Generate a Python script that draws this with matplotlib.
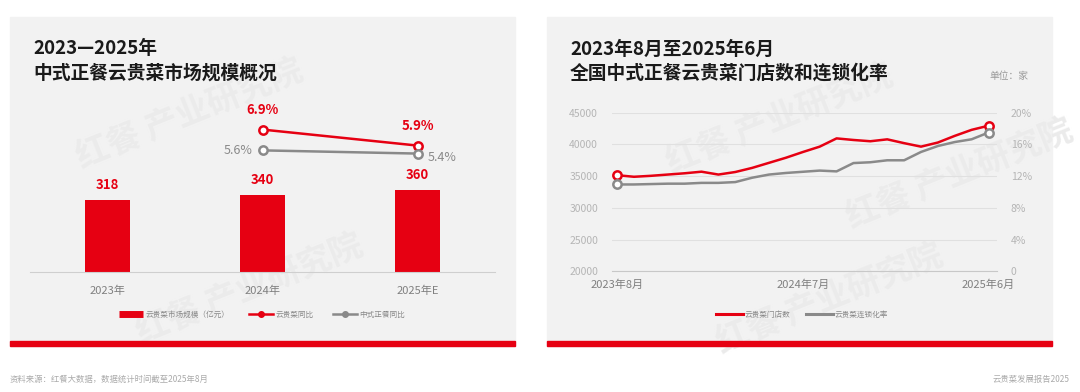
import matplotlib
matplotlib.use("Agg")
import matplotlib.pyplot as plt
from matplotlib.patches import Rectangle
from matplotlib.lines import Line2D
import numpy as np

plt.rcParams['font.family'] = ['Noto Sans CJK SC', 'DejaVu Sans']

# ---- data: left panel ----
years = ["2023年", "2024年", "2025年E"]
market_size = [318, 340, 360]          # 亿元
yunggui_yoy = [None, 6.9, 5.9]         # %
zhengcan_yoy = [None, 5.6, 5.4]        # %

# ---- data: right panel (2023-08 .. 2025-06, monthly) ----
stores = [35150, 34900, 35050, 35250, 35450, 35700, 35250, 35650, 36300, 37100,
          37900, 38800, 39650, 40950, 40700, 40500, 40800, 40200, 39650, 40300,
          41350, 42300, 42950]
chain_rate = [10.95, 10.95, 11.0, 11.05, 11.05, 11.15, 11.15, 11.25, 11.8, 12.2,
              12.4, 12.55, 12.7, 12.6, 13.65, 13.75, 14.0, 14.0, 15.05, 15.8,
              16.3, 16.65, 17.5]
month_ticks = [0, 11, 22]
month_labels = ["2023年8月", "2024年7月", "2025年6月"]

RED = "#e60012"
GRAY = "#8a8a8a"
PANEL = "#f2f2f2"
W, H = 1080, 392

fig = plt.figure(figsize=(W / 100, H / 100), dpi=100)
fig.patch.set_facecolor("white")


def box(x0, y0, x1, y1):
    return [x0 / W, 1 - y1 / H, (x1 - x0) / W, (y1 - y0) / H]


def fx(x):
    return x / W


def fy(y):
    return 1 - y / H


# panels + red bottom strips
for x0, x1 in [(10, 515), (547, 1052)]:
    fig.patches.append(Rectangle((fx(x0), fy(346)), (x1 - x0) / W, (346 - 17) / H,
                                 transform=fig.transFigure, color=PANEL, zorder=0))
    fig.patches.append(Rectangle((fx(x0), fy(346)), (x1 - x0) / W, 5 / H,
                                 transform=fig.transFigure, color=RED, zorder=1))

# faint watermarks
for (x, y) in [(190, 115), (250, 290), (780, 120), (830, 300), (960, 175)]:
    fig.text(fx(x), fy(y), "红餐 产业研究院", fontsize=24, color="#ebebeb",
             rotation=22, ha="center", va="center", fontweight="bold", zorder=0.5)

# ---- left panel ----
fig.text(fx(33), fy(49), "2023—2025年", fontsize=13.5, fontweight="bold",
         color="#1a1a1a", va="center", zorder=3)
fig.text(fx(33), fy(73), "中式正餐云贵菜市场规模概况", fontsize=13.5, fontweight="bold",
         color="#1a1a1a", va="center", zorder=3)

ax = fig.add_axes(box(30, 95, 495, 272), zorder=2)
ax.set_facecolor("none")
x = np.arange(len(years))
bars = ax.bar(x, market_size, 0.285, color=RED, zorder=2)
ax.bar_label(bars, labels=[str(v) for v in market_size], padding=6,
             color=RED, fontsize=9.5, fontweight="bold")
ax.set_xlim(-0.5, 2.5)
ax.set_ylim(0, 780)
ax.set_yticks([])
ax.set_xticks(x)
ax.set_xticklabels(years, fontsize=8, color="#808080")
ax.tick_params(axis="x", length=0, pad=10)
for s in ["top", "right", "left"]:
    ax.spines[s].set_visible(False)
ax.spines["bottom"].set_color("#cfcfcf")

ax2 = ax.twinx()
ax2.set_ylim(-2, 9.06)
ax2.axis("off")
xl = x[1:]
ax2.plot(xl, yunggui_yoy[1:], color=RED, lw=1.8, marker="o", ms=6,
         mfc="white", mec=RED, mew=1.8, zorder=3)
ax2.plot(xl, zhengcan_yoy[1:], color=GRAY, lw=1.8, marker="o", ms=6,
         mfc="white", mec=GRAY, mew=1.8, zorder=3)
for xi, v in zip(xl, yunggui_yoy[1:]):
    ax2.annotate(f"{v}%", (xi, v), xytext=(0, 9), textcoords="offset points",
                 ha="center", va="bottom", color=RED, fontsize=9.5, fontweight="bold")
ax2.annotate(f"{zhengcan_yoy[1]}%", (xl[0], zhengcan_yoy[1]), xytext=(-7, 0),
             textcoords="offset points", ha="right", va="center", color=GRAY, fontsize=9)
ax2.annotate(f"{zhengcan_yoy[2]}%", (xl[1], zhengcan_yoy[2]), xytext=(7, -3),
             textcoords="offset points", ha="left", va="center", color=GRAY, fontsize=9)

h1 = [Line2D([], [], color=RED, lw=5, solid_capstyle="butt"),
      Line2D([], [], color=RED, lw=1.8, marker="o", ms=4),
      Line2D([], [], color=GRAY, lw=1.8, marker="o", ms=4)]
lg1 = fig.legend(h1, ["云贵菜市场规模（亿元）", "云贵菜同比", "中式正餐同比"],
                 loc="center", bbox_to_anchor=(fx(262), fy(315)), ncol=3, frameon=False,
                 fontsize=5.5, labelcolor="#888888", handlelength=3.2, handletextpad=0.3,
                 columnspacing=2.5)
lg1.set_zorder(3)

# ---- right panel ----
fig.text(fx(570), fy(49), "2023年8月至2025年6月", fontsize=13.5, fontweight="bold",
         color="#1a1a1a", va="center", zorder=3)
fig.text(fx(570), fy(73), "全国中式正餐云贵菜门店数和连锁化率", fontsize=13.5,
         fontweight="bold", color="#1a1a1a", va="center", zorder=3)
fig.text(fx(1028), fy(76), "单位：家", fontsize=7, color="#999999", ha="right",
         va="center", zorder=3)

bx = fig.add_axes(box(612, 112.7, 997, 271.3), zorder=2)
bx.set_facecolor("none")
m = np.arange(len(stores))
bx.plot(m, stores, color=RED, lw=1.8, zorder=3, clip_on=False)
bx.plot([m[0], m[-1]], [stores[0], stores[-1]], ls="none", marker="o", ms=6,
        mfc="white", mec=RED, mew=1.8, zorder=4, clip_on=False)
bx.set_xlim(-0.3, 22.5)
bx.set_ylim(20000, 45000)
bx.set_yticks(range(20000, 45001, 5000))
bx.yaxis.grid(True, color="#e0e0e0", lw=0.8)
bx.set_axisbelow(True)
bx.tick_params(axis="y", length=0, labelsize=7.5, labelcolor="#b5b5b5", pad=10)
bx.set_xticks(month_ticks)
bx.set_xticklabels(month_labels, fontsize=8, color="#808080")
bx.tick_params(axis="x", length=0, pad=6)
for s in ["top", "right", "left"]:
    bx.spines[s].set_visible(False)
bx.spines["bottom"].set_color("#c8c8c8")

bx2 = bx.twinx()
bx2.plot(m, chain_rate, color=GRAY, lw=1.8, zorder=3, clip_on=False)
bx2.plot([m[0], m[-1]], [chain_rate[0], chain_rate[-1]], ls="none", marker="o", ms=6,
         mfc="white", mec=GRAY, mew=1.8, zorder=4, clip_on=False)
bx2.set_ylim(0, 20)
bx2.set_yticks(range(0, 21, 4))
bx2.set_yticklabels(["0"] + [f"{v}%" for v in range(4, 21, 4)])
bx2.tick_params(axis="y", length=0, labelsize=7.5, labelcolor="#b5b5b5", pad=10)
for s in ["top", "right", "left", "bottom"]:
    bx2.spines[s].set_visible(False)

h2 = [Line2D([], [], color=RED, lw=2.2), Line2D([], [], color=GRAY, lw=2.2)]
lg2 = fig.legend(h2, ["云贵菜门店数", "云贵菜连锁化率"], loc="center",
                 bbox_to_anchor=(fx(802), fy(315)), ncol=2, frameon=False, fontsize=5.5,
                 labelcolor="#888888", handlelength=3.5, handletextpad=0.3,
                 columnspacing=2.0)
lg2.set_zorder(3)

# ---- footer ----
fig.text(fx(10), fy(379), "资料来源：红餐大数据，数据统计时间截至2025年8月", fontsize=6,
         color="#aaaaaa", va="center")
fig.text(fx(1070), fy(379), "云贵菜发展报告2025", fontsize=6, color="#aaaaaa",
         ha="right", va="center")

fig.savefig("out.png", dpi=100)
